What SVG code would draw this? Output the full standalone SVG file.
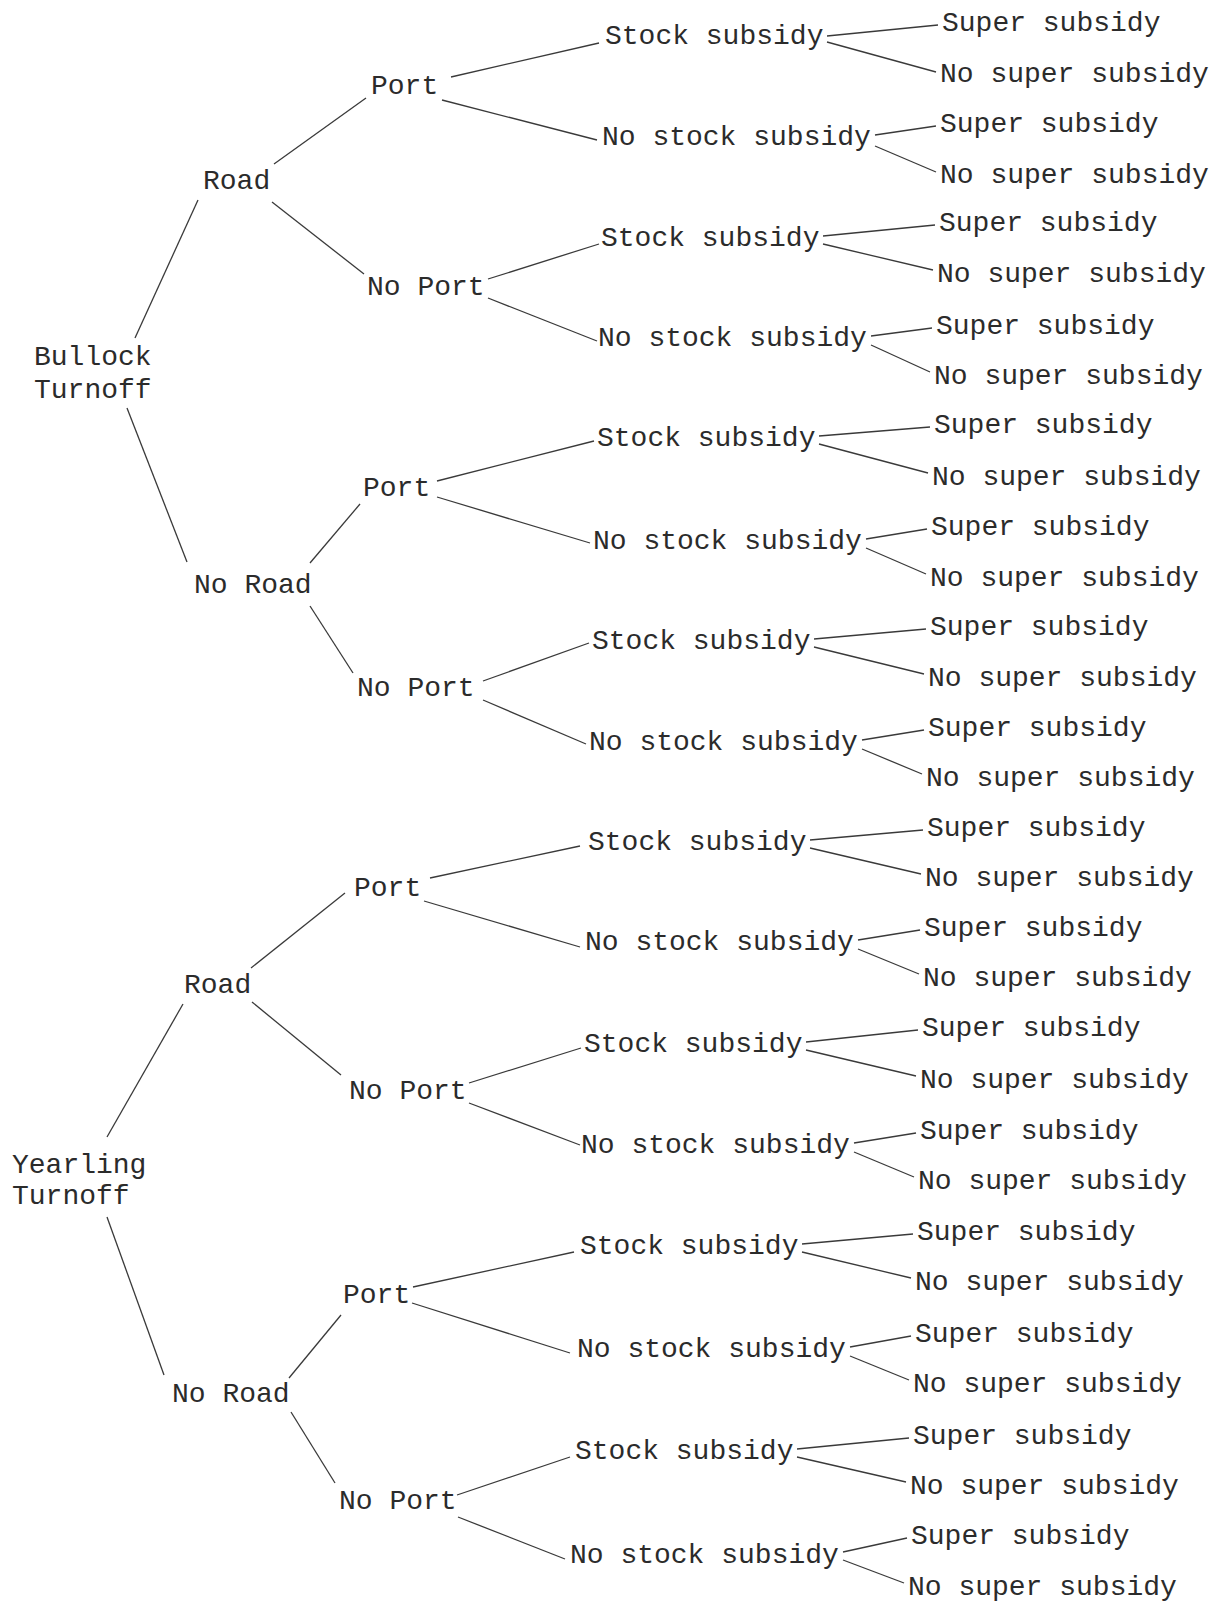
<svg xmlns="http://www.w3.org/2000/svg" width="1227" height="1606" viewBox="0 0 1227 1606">
<style>
text{font-family:"Liberation Mono","Courier New",monospace;font-size:28px;fill:#2b2b2b}
.e line{stroke:#3a3a3a;stroke-width:1.3;fill:none}
</style>
<rect width="1227" height="1606" fill="#fff"/>
<g class="e" id="connectors">
<line x1="135" y1="338" x2="198" y2="200"/>
<line x1="127" y1="408" x2="187" y2="562"/>
<line x1="274" y1="164" x2="366" y2="98"/>
<line x1="272" y1="202" x2="364" y2="274"/>
<line x1="451" y1="77" x2="599" y2="43"/>
<line x1="442" y1="100" x2="597" y2="140"/>
<line x1="488" y1="279" x2="599" y2="244"/>
<line x1="488" y1="298" x2="597" y2="341"/>
<line x1="310" y1="563" x2="360" y2="504"/>
<line x1="310" y1="606" x2="353" y2="673"/>
<line x1="437" y1="481" x2="594" y2="441"/>
<line x1="437" y1="497" x2="590" y2="543"/>
<line x1="483" y1="681" x2="589" y2="643"/>
<line x1="483" y1="700" x2="586" y2="744"/>
<line x1="107" y1="1137" x2="183" y2="1004"/>
<line x1="107" y1="1217" x2="164" y2="1375"/>
<line x1="251" y1="968" x2="345" y2="893"/>
<line x1="252" y1="1002" x2="341" y2="1075"/>
<line x1="430" y1="878" x2="580" y2="846"/>
<line x1="424" y1="901" x2="580" y2="947"/>
<line x1="469" y1="1083" x2="581" y2="1048"/>
<line x1="469" y1="1103" x2="580" y2="1145"/>
<line x1="289" y1="1378" x2="341" y2="1315"/>
<line x1="291" y1="1412" x2="335" y2="1483"/>
<line x1="413" y1="1287" x2="574" y2="1252"/>
<line x1="412" y1="1303" x2="570" y2="1353"/>
<line x1="457" y1="1495" x2="570" y2="1457"/>
<line x1="458" y1="1517" x2="565" y2="1559"/>
<line x1="827" y1="36" x2="938" y2="25"/>
<line x1="827" y1="42" x2="936" y2="72"/>
<line x1="875" y1="135" x2="936" y2="126"/>
<line x1="875" y1="146" x2="936" y2="172"/>
<line x1="823" y1="236" x2="935" y2="225"/>
<line x1="823" y1="244" x2="933" y2="270"/>
<line x1="871" y1="336" x2="932" y2="328"/>
<line x1="871" y1="345" x2="930" y2="372"/>
<line x1="819" y1="436" x2="930" y2="427"/>
<line x1="819" y1="444" x2="928" y2="473"/>
<line x1="866" y1="539" x2="927" y2="529"/>
<line x1="866" y1="548" x2="926" y2="574"/>
<line x1="814" y1="639" x2="926" y2="629"/>
<line x1="814" y1="647" x2="924" y2="674"/>
<line x1="862" y1="740" x2="924" y2="730"/>
<line x1="862" y1="749" x2="922" y2="774"/>
<line x1="810" y1="840" x2="923" y2="830"/>
<line x1="810" y1="848" x2="921" y2="874"/>
<line x1="858" y1="940" x2="920" y2="930"/>
<line x1="858" y1="949" x2="919" y2="974"/>
<line x1="806" y1="1042" x2="918" y2="1030"/>
<line x1="806" y1="1050" x2="916" y2="1076"/>
<line x1="854" y1="1143" x2="916" y2="1133"/>
<line x1="854" y1="1152" x2="914" y2="1177"/>
<line x1="802" y1="1244" x2="913" y2="1234"/>
<line x1="802" y1="1252" x2="911" y2="1278"/>
<line x1="850" y1="1347" x2="911" y2="1336"/>
<line x1="850" y1="1356" x2="909" y2="1380"/>
<line x1="797" y1="1449" x2="909" y2="1438"/>
<line x1="797" y1="1457" x2="906" y2="1482"/>
<line x1="843" y1="1552" x2="907" y2="1538"/>
<line x1="843" y1="1560" x2="904" y2="1583"/>
</g>
<g id="bullock"><text x="34" y="365">Bullock</text><text x="34" y="398">Turnoff</text></g>
<g id="b-road"><text x="203" y="189">Road</text></g>
<g id="b-road-port"><text x="371" y="94">Port</text></g>
<g id="b-road-noport"><text x="367" y="295">No Port</text></g>
<g id="n1"><text x="605" y="44">Stock subsidy</text></g>
<g id="n2"><text x="602" y="145">No stock subsidy</text></g>
<g id="n3"><text x="601" y="246">Stock subsidy</text></g>
<g id="n4"><text x="598" y="346">No stock subsidy</text></g>
<g id="b-noroad"><text x="194" y="593">No Road</text></g>
<g id="b-noroad-port"><text x="363" y="496">Port</text></g>
<g id="b-noroad-noport"><text x="357" y="696">No Port</text></g>
<g id="n5"><text x="597" y="446">Stock subsidy</text></g>
<g id="n6"><text x="593" y="549">No stock subsidy</text></g>
<g id="n7"><text x="592" y="649">Stock subsidy</text></g>
<g id="n8"><text x="589" y="750">No stock subsidy</text></g>
<g id="yearling"><text x="12" y="1173">Yearling</text><text x="12" y="1204">Turnoff</text></g>
<g id="y-road"><text x="184" y="993">Road</text></g>
<g id="y-road-port"><text x="354" y="896">Port</text></g>
<g id="y-road-noport"><text x="349" y="1099">No Port</text></g>
<g id="n9"><text x="588" y="850">Stock subsidy</text></g>
<g id="n10"><text x="585" y="950">No stock subsidy</text></g>
<g id="n11"><text x="584" y="1052">Stock subsidy</text></g>
<g id="n12"><text x="581" y="1153">No stock subsidy</text></g>
<g id="y-noroad"><text x="172" y="1402">No Road</text></g>
<g id="y-noroad-port"><text x="343" y="1303">Port</text></g>
<g id="y-noroad-noport"><text x="339" y="1509">No Port</text></g>
<g id="n13"><text x="580" y="1254">Stock subsidy</text></g>
<g id="n14"><text x="577" y="1357">No stock subsidy</text></g>
<g id="n15"><text x="575" y="1459">Stock subsidy</text></g>
<g id="n16"><text x="570" y="1563">No stock subsidy</text></g>
<g id="leaves">
<g id="l1"><text x="942" y="31">Super subsidy</text></g>
<g id="l2"><text x="940" y="82">No super subsidy</text></g>
<g id="l3"><text x="940" y="132">Super subsidy</text></g>
<g id="l4"><text x="940" y="183">No super subsidy</text></g>
<g id="l5"><text x="939" y="231">Super subsidy</text></g>
<g id="l6"><text x="937" y="282">No super subsidy</text></g>
<g id="l7"><text x="936" y="334">Super subsidy</text></g>
<g id="l8"><text x="934" y="384">No super subsidy</text></g>
<g id="l9"><text x="934" y="433">Super subsidy</text></g>
<g id="l10"><text x="932" y="485">No super subsidy</text></g>
<g id="l11"><text x="931" y="535">Super subsidy</text></g>
<g id="l12"><text x="930" y="586">No super subsidy</text></g>
<g id="l13"><text x="930" y="635">Super subsidy</text></g>
<g id="l14"><text x="928" y="686">No super subsidy</text></g>
<g id="l15"><text x="928" y="736">Super subsidy</text></g>
<g id="l16"><text x="926" y="786">No super subsidy</text></g>
<g id="l17"><text x="927" y="836">Super subsidy</text></g>
<g id="l18"><text x="925" y="886">No super subsidy</text></g>
<g id="l19"><text x="924" y="936">Super subsidy</text></g>
<g id="l20"><text x="923" y="986">No super subsidy</text></g>
<g id="l21"><text x="922" y="1036">Super subsidy</text></g>
<g id="l22"><text x="920" y="1088">No super subsidy</text></g>
<g id="l23"><text x="920" y="1139">Super subsidy</text></g>
<g id="l24"><text x="918" y="1189">No super subsidy</text></g>
<g id="l25"><text x="917" y="1240">Super subsidy</text></g>
<g id="l26"><text x="915" y="1290">No super subsidy</text></g>
<g id="l27"><text x="915" y="1342">Super subsidy</text></g>
<g id="l28"><text x="913" y="1392">No super subsidy</text></g>
<g id="l29"><text x="913" y="1444">Super subsidy</text></g>
<g id="l30"><text x="910" y="1494">No super subsidy</text></g>
<g id="l31"><text x="911" y="1544">Super subsidy</text></g>
<g id="l32"><text x="908" y="1595">No super subsidy</text></g>
</g>
</svg>
